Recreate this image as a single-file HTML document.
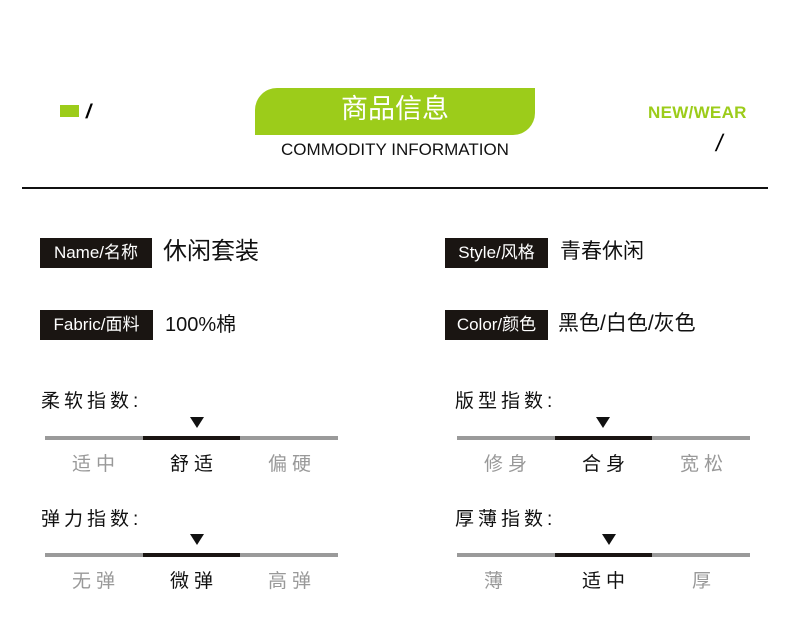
<!DOCTYPE html><html><head><meta charset="utf-8"><style>
body{margin:0;width:790px;height:638px;background:#fff;position:relative;overflow:hidden;font-family:"Liberation Sans","Noto Sans CJK SC",sans-serif}
.a{position:absolute;white-space:nowrap}
.box{position:absolute;background:#1a1512;color:#fff;font-size:17px;height:30px;line-height:30px;text-align:center}
.val{position:absolute;font-size:21px;color:#111;line-height:30px}
.bar{position:absolute;height:4px;background:#9a9a9a}
.dk{position:absolute;height:4px;background:#1a1512}
.tri{position:absolute;width:0;height:0;border-left:7px solid transparent;border-right:7px solid transparent;border-top:11px solid #111}
.t{position:absolute;font-size:19px;color:#999;letter-spacing:5px;width:100px;text-align:center}
.h{position:absolute;font-size:19px;color:#111;letter-spacing:4px}
</style></head><body>
<div class="a" style="left:60px;top:105px;width:19px;height:12px;background:#9ccc1a"></div>
<div class="a" style="left:86px;top:101px;font-size:20px;font-weight:bold;transform:skewX(-10deg)">/</div>
<div class="a" style="left:255px;top:88px;width:280px;height:47px;background:#9ccc1a;border-radius:22px 0 22px 0"></div>
<div class="a" style="left:255px;top:89px;width:280px;text-align:center;color:#fff;font-size:27px;line-height:40px">商品信息</div>
<div class="a" style="left:255px;top:140px;width:280px;text-align:center;font-size:17px;color:#111">COMMODITY INFORMATION</div>
<div class="a" style="left:648px;top:103px;font-size:17px;font-weight:bold;color:#9ccc1a;letter-spacing:0.3px">NEW/WEAR</div>
<div class="a" style="left:716px;top:130px;font-size:24px;transform:skewX(-10deg)">/</div>
<div class="a" style="left:22px;top:187px;width:746px;height:2px;background:#111"></div>

<div class="box" style="left:40px;top:238px;width:112px">Name/名称</div><div class="val" style="left:163px;top:237px;font-size:24px">休闲套装</div>
<div class="box" style="left:445px;top:238px;width:103px">Style/风格</div><div class="val" style="left:560px;top:237px;font-size:21px">青春休闲</div>
<div class="box" style="left:40px;top:310px;width:113px">Fabric/面料</div><div class="val" style="left:165px;top:310px;font-size:20px">100%棉</div>
<div class="box" style="left:445px;top:310px;width:103px">Color/颜色</div><div class="val" style="left:558px;top:309px;font-size:21px">黑色/白色/灰色</div>

<div class="h" style="left:41px;top:386px">柔软指数:</div>
<div class="tri" style="left:190px;top:417px"></div>
<div class="bar" style="left:45px;top:436px;width:293px"></div><div class="dk" style="left:143px;top:436px;width:97px"></div>
<div class="t" style="left:46px;top:449px">适中</div><div class="t" style="left:144px;top:449px;color:#111">舒适</div><div class="t" style="left:242px;top:449px">偏硬</div>

<div class="h" style="left:455px;top:386px">版型指数:</div>
<div class="tri" style="left:596px;top:417px"></div>
<div class="bar" style="left:457px;top:436px;width:293px"></div><div class="dk" style="left:555px;top:436px;width:97px"></div>
<div class="t" style="left:458px;top:449px">修身</div><div class="t" style="left:556px;top:449px;color:#111">合身</div><div class="t" style="left:654px;top:449px">宽松</div>

<div class="h" style="left:41px;top:504px">弹力指数:</div>
<div class="tri" style="left:190px;top:534px"></div>
<div class="bar" style="left:45px;top:553px;width:293px"></div><div class="dk" style="left:143px;top:553px;width:97px"></div>
<div class="t" style="left:46px;top:566px">无弹</div><div class="t" style="left:144px;top:566px;color:#111">微弹</div><div class="t" style="left:242px;top:566px">高弹</div>

<div class="h" style="left:455px;top:504px">厚薄指数:</div>
<div class="tri" style="left:602px;top:534px"></div>
<div class="bar" style="left:457px;top:553px;width:293px"></div><div class="dk" style="left:555px;top:553px;width:97px"></div>
<div class="t" style="left:446px;top:566px">薄</div><div class="t" style="left:556px;top:566px;color:#111">适中</div><div class="t" style="left:654px;top:566px">厚</div>
</body></html>
